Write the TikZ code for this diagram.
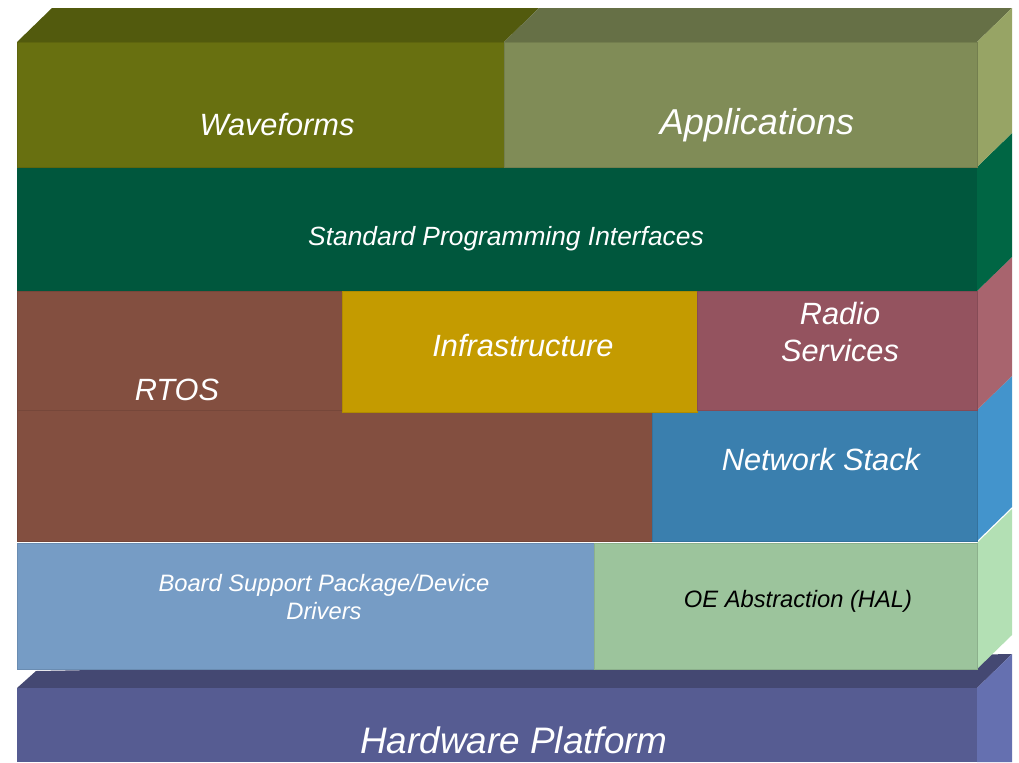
\documentclass[tikz,border=0pt]{standalone}
\usepackage{fontspec}
\setmainfont{Liberation Sans}
\usetikzlibrary{positioning}
\definecolor{waveFront}{HTML}{687010}
\definecolor{waveTop}{HTML}{525A0D}
\definecolor{appFront}{HTML}{808C57}
\definecolor{appTop}{HTML}{667046}
\definecolor{appSide}{HTML}{97A465}
\definecolor{apiFront}{HTML}{00573D}
\definecolor{apiSide}{HTML}{006644}
\definecolor{rtosFront}{HTML}{834F40}
\definecolor{infraFront}{HTML}{C49B00}
\definecolor{radioFront}{HTML}{94535F}
\definecolor{radioSide}{HTML}{A8646E}
\definecolor{netFront}{HTML}{3A7FAE}
\definecolor{netSide}{HTML}{4394CC}
\definecolor{bspFront}{HTML}{769CC5}
\definecolor{oeFront}{HTML}{9CC49C}
\definecolor{oeSide}{HTML}{B3E0B4}
\definecolor{hwFront}{HTML}{565C92}
\definecolor{hwTop}{HTML}{444872}
\definecolor{hwSide}{HTML}{6570B0}
\tikzset{face/.style = {fill=#1, draw=#1!90!black, line width=0.5pt},
         txt/.style 2 args = {text=white, font=\itshape\fontsize{#1}{#2}\selectfont, align=center, inner sep=0pt}}

\begin{document}
\begin{tikzpicture}[x=0.02cm, y=-0.02cm]
    \useasboundingbox (0, 0) rectangle (1019, 762);
    % hardware platform
    \fill [hwTop] (17, 688) -- (36, 671) -- (1012, 654) -- (977, 688) -- cycle;
    \fill [hwSide] (977, 688) -- (1012, 654) -- (1012, 762) -- (977, 762) -- cycle;
    \fill [hwFront] (17, 688) rectangle (977, 762);
    % BSP and OE abstraction
    \fill [oeSide] (977, 543) -- (1012, 509) -- (1012, 635) -- (977, 669) -- cycle;
    \path [face=bspFront] (17, 543) rectangle (594, 669);
    \path [face=oeFront] (594, 543) rectangle (977, 669);
    % RTOS, network stack, infrastructure, radio services
    \fill [netSide] (977, 410) -- (1012, 376) -- (1012, 507) -- (977, 541) -- cycle;
    \fill [radioSide] (977, 291) -- (1012, 257) -- (1012, 376) -- (977, 410) -- cycle;
    \path [face=rtosFront] (17, 291) -- (342, 291) -- (342, 410) -- (652, 410)
        -- (652, 541) -- (17, 541) -- cycle;
    \draw [rtosFront!90!black, line width=0.5pt] (17, 410) -- (342, 410);
    \path [face=netFront] (652, 410) rectangle (977, 541);
    \path [face=infraFront] (342, 291) rectangle (697, 412);
    \path [face=radioFront] (697, 291) rectangle (977, 410);
    % programming interfaces
    \fill [apiSide] (977, 167) -- (1012, 133) -- (1012, 257) -- (977, 291) -- cycle;
    \fill [apiFront] (17, 167) rectangle (977, 291);
    % waveforms and applications
    \fill [waveTop] (17, 42) -- (52, 8) -- (539, 8) -- (504, 42) -- cycle;
    \fill [appTop] (504, 42) -- (539, 8) -- (1012, 8) -- (977, 42) -- cycle;
    \fill [appSide] (977, 42) -- (1012, 8) -- (1012, 133) -- (977, 167) -- cycle;
    \path [face=waveFront] (17, 42) rectangle (504, 167);
    \path [face=appFront] (504, 42) rectangle (977, 167);
    % texts
    \node [txt={17.5}{21}] (waveforms) at (277, 125) {Waveforms};
    \node [txt={20.5}{24}] (apps) at (757, 125) {Applications};
    \node [txt={15}{18}] (api) at (506, 239) {Standard Programming Interfaces};
    \node [txt={17.5}{21}] (rtos) at (177, 390) {RTOS};
    \node [txt={17.5}{21}] (infra) at (523, 346) {Infrastructure};
    \node [txt={17.5}{21}] (radio) at (840, 332) {Radio\\Services};
    \node [txt={17.5}{21}] (netstack) at (821, 460) {Network Stack};
    \node [txt={13.5}{16}] (bsp) at (324, 597) {Board Support Package/Device\\Drivers};
    \node [txt={13.5}{16}, text=black] (oe) at (798, 601) {OE Abstraction (HAL)};
    \node [txt={21}{25}] (hw) at (514, 740) {Hardware Platform};
\end{tikzpicture}
\end{document}
